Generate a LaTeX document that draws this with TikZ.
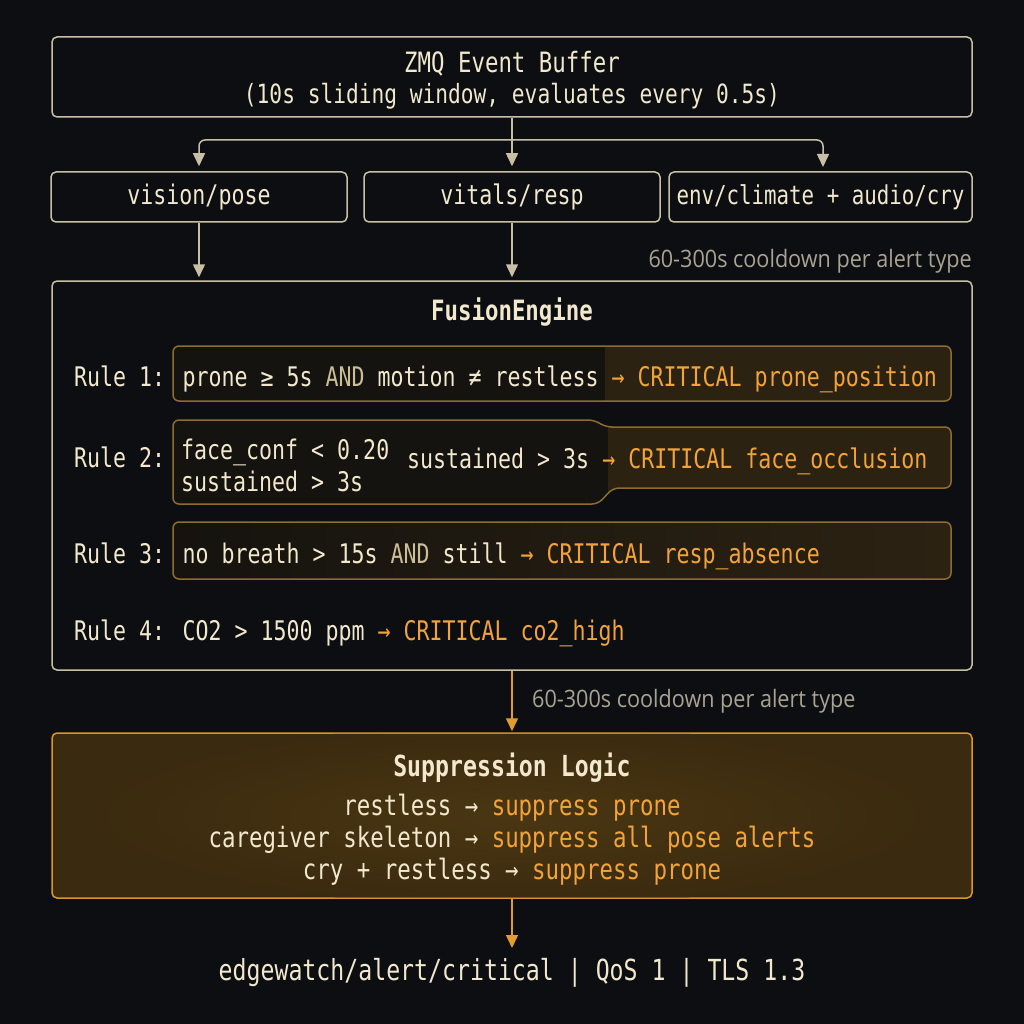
\documentclass[tikz,border=0pt]{standalone}
\usepackage{fontspec}
\usetikzlibrary{arrows.meta,calc}
\newfontfamily\mono[FakeStretch=0.8]{DejaVu Sans Mono}
\newfontfamily\lab[FakeStretch=0.9]{Open Sans}
\definecolor{bg}{HTML}{0C0E11}
\definecolor{linec}{HTML}{C8C0A6}
\definecolor{cream}{HTML}{F2E8CE}
\definecolor{orng}{HTML}{F2A33A}
\definecolor{tan}{HTML}{CBBE98}
\definecolor{graylab}{HTML}{A9A393}
\definecolor{rborder}{HTML}{8E6C30}
\definecolor{rdark}{HTML}{15130F}
\definecolor{rbrown}{HTML}{2C2212}
\definecolor{suppfill}{HTML}{3A2A0F}
\definecolor{suppglow}{HTML}{4A3612}
\definecolor{suppborder}{HTML}{D8962E}
\definecolor{orarrow}{HTML}{E39A2E}
\begin{document}
\begin{tikzpicture}[x=1pt,y=-1pt,
  box/.style={draw=linec, line width=1.5pt, rounded corners=5pt, inner sep=0pt, text=cream, font=\mono},
  txt/.style={inner sep=0pt, text=cream, font=\mono\fontsize{27}{30}\selectfont},
  arr/.style={-{Triangle[width=12pt,length=13pt]}, line width=1.5pt, draw=linec},
  oarr/.style={-{Triangle[width=12pt,length=13pt]}, line width=1.5pt, draw=orarrow},
  rbox/.style={draw=rborder, line width=1.5pt, rounded corners=6pt},
  labl/.style={inner sep=0pt, text=graylab, font=\lab\fontsize{24}{26}\selectfont}]
\fill[bg] (0,0) rectangle (1024,1024);
\useasboundingbox (0,0) rectangle (1024,1024);

% top buffer
\node[box, minimum width=920pt, minimum height=80pt] (zmq) at (512,77) {};
\node[txt, anchor=base, font=\mono\fontsize{28}{31}\selectfont] (zmq1) at (512,73) {ZMQ Event Buffer};
\node[txt, anchor=base, font=\mono\fontsize{26.5}{31}\selectfont] (zmq2) at (512,104) {(10s sliding window, evaluates every 0.5s)};

% topic boxes
\node[box, minimum width=296pt, minimum height=50pt, font=\mono\fontsize{27}{30}\selectfont] (vision) at (199,197) {vision/pose};
\node[box, minimum width=296pt, minimum height=50pt, font=\mono\fontsize{27}{30}\selectfont] (vitals) at (512,197) {vitals/resp};
\node[box, minimum width=303pt, minimum height=50pt, font=\mono\fontsize{26}{30}\selectfont] (env) at (820.5,197) {env/climate + audio/cry};

\coordinate (br) at (512,140);
\coordinate (envin) at (823,172);
\draw[arr, shorten >=5pt] (zmq.south) -- (vitals.north);
\draw[arr, rounded corners=6pt, shorten >=5pt] (br) -| (vision.north);
\draw[arr, rounded corners=6pt, shorten >=5pt] (br) -| (envin);

\node[labl, anchor=east] (cd1) at (972,261) {60-300s cooldown per alert type};

% fusion engine
\node[box, minimum width=920pt, minimum height=389pt] (fusion) at (512,475.5) {};
\draw[arr, shorten >=3pt] (vision.south) -- (vision.south |- fusion.north);
\draw[arr, shorten >=3pt] (vitals.south) -- (vitals.south |- fusion.north);
\node[txt, font=\mono\bfseries\fontsize{28}{30}\selectfont] (ftitle) at (512,312) {FusionEngine};

% rule 1 box
\begin{scope}
\clip[rounded corners=6pt] (173,346) rectangle (951,401);
\fill[rdark] (173,346) rectangle (951,401);
\fill[rbrown] (605,346) rectangle (951,401);
\end{scope}
\draw[rbox] (173,346) rectangle (951,401);

% rule 2 box
\begin{scope}
\clip[rounded corners=6pt] (173,420) -- (594,420) -- (606,427) -- (951,427) -- (951,488) -- (613,488) -- (598,504) -- (173,504) -- cycle;
\fill[rdark] (173,420) rectangle (951,504);
\fill[rbrown] (608,420) rectangle (951,504);
\end{scope}
\draw[rbox] (173,420) -- (594,420) -- (606,427) -- (951,427) -- (951,488) -- (613,488) -- (598,504) -- (173,504) -- cycle;

% rule 3 box
\begin{scope}
\clip[rounded corners=6pt] (173,522) rectangle (951,579);
\shade[left color=rdark, right color=rbrown] (173,522) rectangle (951,579);
\end{scope}
\draw[rbox] (173,522) rectangle (951,579);

% rule texts
\node[txt, anchor=base west] (r1) at (74,386)
  {Rule 1: prone ≥ 5s \textcolor{tan}{AND} motion ≠ restless \textcolor{orng}{→ CRITICAL prone\_position}};
\node[txt, anchor=base west] (r2) at (74,467) {Rule 2:};
\node[txt, anchor=base west] (r2a) at (181,459) {face\_conf < 0.20};
\node[txt, anchor=base west] (r2b) at (181,491) {sustained > 3s};
\node[txt, anchor=base west] (r2c) at (407,468) {sustained > 3s \textcolor{orng}{→ CRITICAL face\_occlusion}};
\node[txt, anchor=base west] (r3) at (74,563)
  {Rule 3: no breath > 15s \textcolor{tan}{AND} still \textcolor{orng}{→ CRITICAL resp\_absence}};
\node[txt, anchor=base west] (r4) at (74,640)
  {Rule 4: CO2 > 1500 ppm \textcolor{orng}{→ CRITICAL co2\_high}};

% suppression
\node[box, draw=suppborder, fill=suppfill, minimum width=920pt, minimum height=165pt] (supp) at (512,815.5) {};
\begin{scope}
\clip[rounded corners=5pt] (52.75,733.75) rectangle (971.25,897.25);
\shade[inner color=suppglow, outer color=suppfill] (512,815.5) ellipse (420 and 90);
\end{scope}
\draw[oarr, shorten >=1pt] (fusion.south) -- (supp.north);
\node[labl, anchor=west] (cd2) at (532,701) {60-300s cooldown per alert type};

\node[txt, anchor=base, font=\mono\bfseries\fontsize{29}{30}\selectfont] (stitle) at (512,776) {Suppression Logic};
\node[txt, anchor=base, font=\mono\fontsize{28}{30}\selectfont] (s1) at (512,815) {restless → \textcolor{orng}{suppress prone}};
\node[txt, anchor=base, font=\mono\fontsize{28}{30}\selectfont] (s2) at (512,847) {caregiver skeleton → \textcolor{orng}{suppress all pose alerts}};
\node[txt, anchor=base, font=\mono\fontsize{28}{30}\selectfont] (s3) at (512,879) {cry + restless → \textcolor{orng}{suppress prone}};

% output
\node[txt, font=\mono\fontsize{29}{30}\selectfont] (out) at (512,973) {edgewatch/alert/critical | QoS 1 | TLS 1.3};
\coordinate (outin) at (512,948);
\draw[oarr] (supp.south) -- (outin);
\end{tikzpicture}
\end{document}
